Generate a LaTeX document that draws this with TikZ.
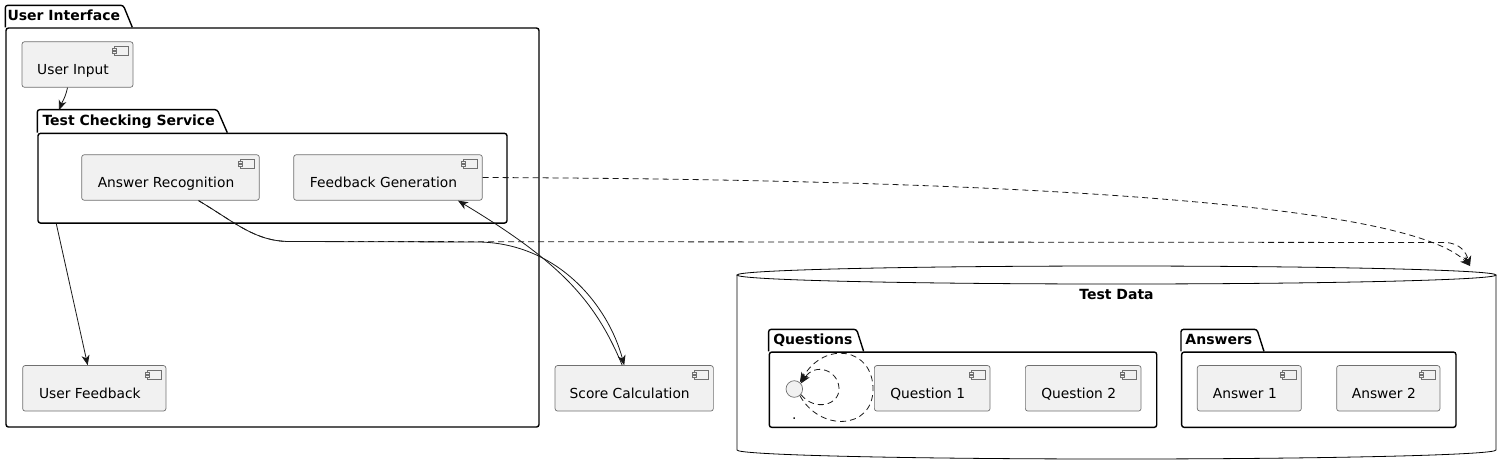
\documentclass[tikz,border=0pt]{standalone}
\usepackage{fontspec}
\setmainfont{DejaVu Sans}
\usetikzlibrary{arrows.meta}
\definecolor{compfill}{HTML}{F1F1F1}
\definecolor{compline}{HTML}{707070}
\definecolor{depline}{HTML}{181818}
\tikzset{
  comp/.style={draw=compline,fill=compfill,line width=.7pt,rounded corners=2.5pt,
    minimum height=45.5pt,inner sep=0pt,text height=20pt,text depth=0pt,
    font=\fontsize{13.8}{16}\selectfont,execute at end node={\hspace{9pt}},
    path picture={
      \draw[compline,line width=.6pt,sharp corners] ([shift={(-19,4.5)}]path picture bounding box.north east) rectangle ++(14,9);
      \draw[compline,line width=.6pt,sharp corners,fill=compfill] ([shift={(-21,6.5)}]path picture bounding box.north east) rectangle ++(4,2.2)
        ([shift={(-21,9.8)}]path picture bounding box.north east) rectangle ++(4,2.2);}},
  pkg/.style={draw,line width=1.4pt,rounded corners=2.5pt,inner sep=0pt},
  pkgtab/.style={line width=1.4pt,rounded corners=2.5pt},
  pkgtitle/.style={anchor=base west,inner sep=0pt,font=\bfseries\fontsize{14}{16}\selectfont},
  dep/.style={-{Stealth[length=10pt,width=8pt,inset=3pt]},line width=.8pt,depline},
  uses/.style={dep,dash pattern=on 6pt off 4pt},
  dbline/.style={line width=.8pt,black}
}
\begin{document}
\begin{tikzpicture}[x=1pt,y=-1pt]
\useasboundingbox (0,0) rectangle (1512,475);
% packages
\node[pkg,minimum width=533,minimum height=399] (ui) at (272.5,227.5) {};
\draw[pkgtab] (ui.north west) -- ++(0,-22) -- ++(118,0) -- ++(9,22);
\node[pkgtitle] (uit) at ([shift={(2,-7)}]ui.north west) {User Interface};
\node[pkg,minimum width=469,minimum height=89.7] (tcs) at (272.5,178.2) {};
\draw[pkgtab] (tcs.north west) -- ++(0,-23) -- ++(180,0) -- ++(10,23);
\node[pkgtitle] (tcst) at ([shift={(5,-7.3)}]tcs.north west) {Test Checking Service};
\coordinate (tcstop) at ([shift={(21.7,-22.5)}]tcs.north west);
% database
\draw[dbline] (737,275) -- (737,450) arc[start angle=180,end angle=0,x radius=379.5,y radius=9] -- (1496,275);
\draw[dbline] (1116.5,275) ellipse[x radius=379.5,y radius=9];
\node[pkgtitle,anchor=base] (td) at (1116.5,299) {Test Data};
\coordinate (tdtop) at (1470,266);
\node[pkg,minimum width=387.4,minimum height=75.3] (qp) at (963,389.7) {};
\draw[pkgtab] (qp.north west) -- ++(0,-22) -- ++(88,0) -- ++(7,22);
\node[pkgtitle] (qpt) at ([shift={(4.5,-6.5)}]qp.north west) {Questions};
\node[pkg,minimum width=274.3,minimum height=75.3] (ap) at (1318.8,389.7) {};
\draw[pkgtab] (ap.north west) -- ++(0,-22) -- ++(76,0) -- ++(7,22);
\node[pkgtitle] (apt) at ([shift={(4.3,-6.5)}]ap.north west) {Answers};
% components
\node[comp,minimum width=111] (uin) at (77.5,64.5) {User Input};
\node[comp,minimum width=177.6] (ar) at (170.5,177.5) {Answer Recognition};
\node[comp,minimum width=188.6] (fg) at (388,177.5) {Feedback Generation};
\node[comp,minimum width=143.3] (ufb) at (94.3,388.3) {User Feedback};
\node[comp,minimum width=158.3] (sc) at (634.2,388.3) {Score Calculation};
\node[comp,minimum width=115.7] (q1) at (932.2,388.3) {Question 1};
\node[comp,minimum width=115.7] (q2) at (1083.2,388.3) {Question 2};
\node[comp,minimum width=104] (a1) at (1249.3,388.3) {Answer 1};
\node[comp,minimum width=103.3] (a2) at (1388.3,388.3) {Answer 2};
\node[circle,draw=compline,fill=compfill,line width=.7pt,minimum size=16.6pt,inner sep=0pt] (qi) at (794.3,389) {};
\node[anchor=base,inner sep=0pt,font=\fontsize{13.8}{16}\selectfont] (qdot) at (794.3,419) {.};
% connectors
\draw[dep] ([xshift=-10]uin.south) .. controls +(-2,10) and +(3,-8) .. (tcstop);
\draw[dep] ([xshift=19]tcs.south west) -- ([xshift=-6.6]ufb.north);
\draw[dep] ([xshift=28]ar.south) .. controls +(37,22) and +(-35,0) .. (290,241.5) -- (480,242)
  .. controls (558,244) and (608,305) .. ([xshift=-10]sc.north);
\draw[uses] ([xshift=28]ar.south) .. controls +(37,22) and +(-35,0) .. (290,241.5) -- (1445,242.5)
  .. controls (1460,243) and (1466,252) .. (tdtop);
\draw[dep] ([xshift=-12]sc.north) .. controls (595,300) and (560,262) .. ([xshift=70]fg.south);
\draw[uses] (fg.east) .. controls (1150,180) and (1420,215) .. (tdtop);
\draw[uses] (qi.-40) .. controls (815,412) and (840,405) .. (839,388) .. controls (838,370) and (815,362) .. (qi.40);
\draw[uses] (qi.-50) .. controls (820,432) and (873,430) .. (873,389) .. controls (873,348) and (825,340) .. (qi.50);
\end{tikzpicture}
\end{document}
